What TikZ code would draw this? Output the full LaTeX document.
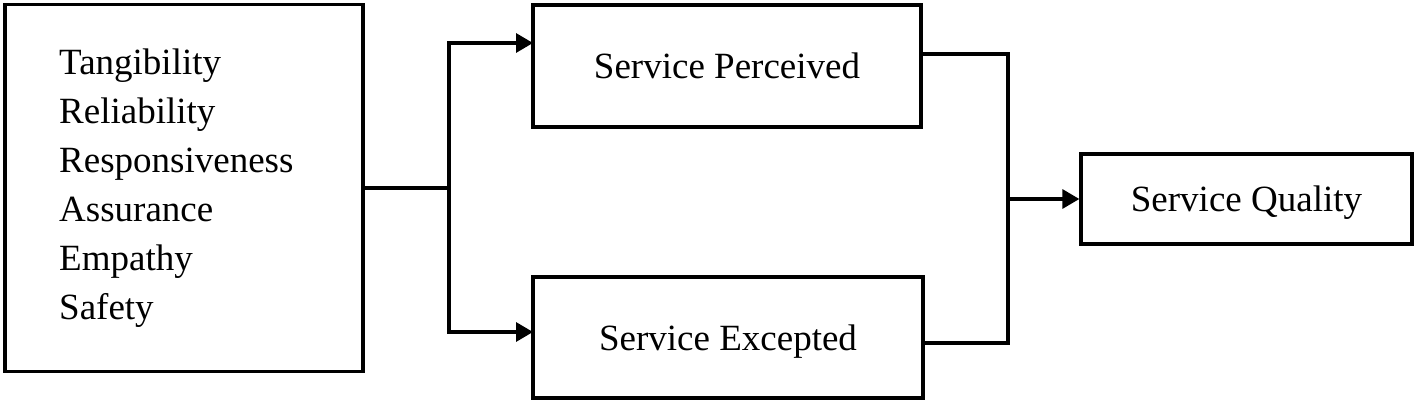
\documentclass[tikz,border=0pt]{standalone}
\usepackage{fontspec}
\setmainfont{Liberation Serif}
\usetikzlibrary{arrows.meta}
\begin{document}
\begin{tikzpicture}[x=1pt,y=-1pt,
  box/.style={draw=black,line width=3.3pt,rectangle,inner sep=0pt,font=\fontsize{37}{40}\selectfont,text depth=0pt},
  item/.style={anchor=base west,inner sep=0pt,font=\fontsize{37}{40}\selectfont},
  conn/.style={line width=3.3pt,draw=black},
  arr/.style={conn,-{Triangle[length=17pt,width=19pt]}}]
\useasboundingbox (0,0) rectangle (1417,403);
\node[box,minimum width=358pt,minimum height=367pt] (dims) at (184,188) {};
\node[item] (t1) at (59,75) {Tangibility};
\node[item] (t2) at (59,124) {Reliability};
\node[item] (t3) at (59,173) {Responsiveness};
\node[item] (t4) at (59,222) {Assurance};
\node[item] (t5) at (59,271) {Empathy};
\node[item] (t6) at (59,320) {Safety};
\node[box,minimum width=388pt,minimum height=122pt] (perc) at (727,66) {Service Perceived};
\node[box,minimum width=390pt,minimum height=121pt] (exc) at (728,337.5) {Service Excepted};
\node[box,minimum width=331pt,minimum height=90pt] (qual) at (1246.5,199) {Service Quality};
\coordinate (j1) at (449,188);
\coordinate (pin) at (533,43);
\coordinate (ein) at (533,332);
\coordinate (pout) at (921,54);
\coordinate (eout) at (923,343);
\coordinate (j2) at (1008,199);
\draw[conn] (dims.east |- j1) -- (j1);
\draw[arr] (j1) |- (pin);
\draw[arr] (j1) |- (ein);
\draw[conn] (pout) -| (j2) |- (eout);
\draw[arr] (j2) -- (qual.west);
\end{tikzpicture}
\end{document}
